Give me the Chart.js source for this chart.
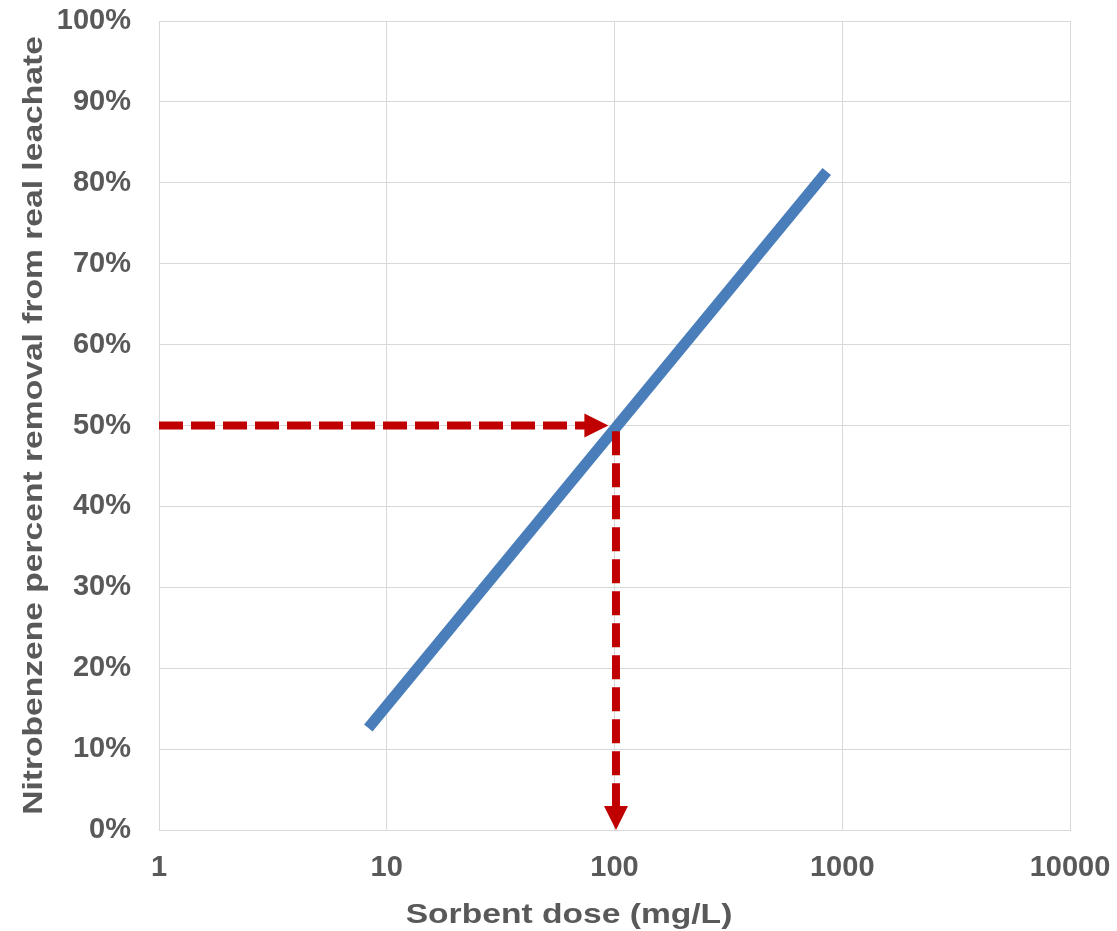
<!DOCTYPE html>
<html>
<head>
<meta charset="utf-8">
<title>Sorbent dose vs nitrobenzene removal</title>
<script src="https://cdn.jsdelivr.net/npm/chart.js@4/dist/chart.umd.min.js"></script>
<style>
  html, body { margin: 0; padding: 0; background: #ffffff; }
  #wrap { width: 1117px; height: 931px; }
</style>
</head>
<body>
<div id="wrap"><canvas id="c" width="1117" height="931"></canvas></div>
<script>
// Fitted removal line: sorbent dose (mg/L) -> percent removal
const doseValues = [8.3, 855];
const removalValues = [12.6, 81.4];

// Reading guide arrows: 50% removal -> required dose
const guideH = [[1, 50], [94, 50]];
const guideV = [[101.5, 49.3], [101.5, 0]];

// Axis ticks
const xTickValues = [1, 10, 100, 1000, 10000];
const yTickValues = [0, 10, 20, 30, 40, 50, 60, 70, 80, 90, 100];

const xTitle = 'Sorbent dose (mg/L)';
const yTitle = 'Nitrobenzene percent removal from real leachate';

const TEXT = '#595959';
const GRID = '#d9d9d9';
const RED = '#C00000';
const BLUE = '#4A7EBB';
const FONT = '"Liberation Sans", Arial, sans-serif';

const linePoints = doseValues.map((d, i) => ({ x: d, y: removalValues[i] }));

// Draws dashed guide arrows and axis titles
const annotate = {
  id: 'annotate',
  afterDatasetsDraw(chart) {
    const { ctx, scales } = chart;
    const sx = scales.x, sy = scales.y;
    const drawArrow = (pts) => {
      const x0 = sx.getPixelForValue(pts[0][0]), y0 = sy.getPixelForValue(pts[0][1]);
      const x1 = sx.getPixelForValue(pts[1][0]), y1 = sy.getPixelForValue(pts[1][1]);
      const len = Math.hypot(x1 - x0, y1 - y0);
      const ux = (x1 - x0) / len, uy = (y1 - y0) / len;
      const head = 24, half = 12;
      const bx = x1 - ux * head, by = y1 - uy * head;
      ctx.save();
      ctx.strokeStyle = RED;
      ctx.lineWidth = 8;
      ctx.setLineDash([24, 8]);
      ctx.lineCap = 'butt';
      ctx.beginPath();
      ctx.moveTo(x0, y0);
      ctx.lineTo(bx + ux * 1, by + uy * 1);
      ctx.stroke();
      ctx.setLineDash([]);
      ctx.fillStyle = RED;
      ctx.beginPath();
      ctx.moveTo(x1, y1);
      ctx.lineTo(bx - uy * half, by + ux * half);
      ctx.lineTo(bx + uy * half, by - ux * half);
      ctx.closePath();
      ctx.fill();
      ctx.restore();
    };
    drawArrow(guideH);
    drawArrow(guideV);
  },
  afterDraw(chart) {
    const { ctx, chartArea } = chart;
    const wide = 1.2; // titles use a widened face
    ctx.save();
    ctx.fillStyle = TEXT;
    ctx.font = 'bold 28px ' + FONT;
    ctx.textAlign = 'center';
    ctx.textBaseline = 'alphabetic';
    ctx.save();
    ctx.translate(569, 923);
    ctx.scale(wide, 1);
    ctx.fillText(xTitle, 0, 0);
    ctx.restore();
    ctx.translate(42, (chartArea.top + chartArea.bottom) / 2);
    ctx.rotate(-Math.PI / 2);
    ctx.scale(wide, 1);
    ctx.fillText(yTitle, 0, 0);
    ctx.restore();
  }
};

new Chart(document.getElementById('c'), {
  type: 'scatter',
  data: {
    datasets: [{
      data: linePoints,
      showLine: true,
      borderColor: BLUE,
      backgroundColor: BLUE,
      borderWidth: 11,
      borderCapStyle: 'butt',
      pointRadius: 0,
      pointHoverRadius: 0
    }]
  },
  options: {
    responsive: false,
    animation: false,
    layout: { padding: { top: 21, right: 47, left: 0, bottom: 0 } },
    plugins: {
      legend: { display: false },
      tooltip: { enabled: false }
    },
    scales: {
      x: {
        type: 'logarithmic',
        min: 1,
        max: 10000,
        afterBuildTicks(scale) { scale.ticks = xTickValues.map(v => ({ value: v })); },
        afterFit(scale) {
          scale.height = 101;
          scale.paddingLeft = 0;
          scale.paddingRight = 0;
        },
        grid: { color: GRID, lineWidth: 1, drawTicks: false },
        border: { display: true, color: GRID },
        ticks: {
          padding: 21,
          color: TEXT,
          font: { family: FONT, size: 29, weight: 'bold' },
          maxRotation: 0,
          autoSkip: false,
          callback: (v) => String(v)
        }
      },
      y: {
        type: 'linear',
        min: 0,
        max: 100,
        afterBuildTicks(scale) { scale.ticks = yTickValues.map(v => ({ value: v })); },
        afterFit(scale) {
          scale.width = 159;
          scale.paddingTop = 0;
          scale.paddingBottom = 0;
        },
        grid: { color: GRID, lineWidth: 1, drawTicks: false },
        border: { display: true, color: GRID },
        ticks: {
          padding: 28,
          color: TEXT,
          font: { family: FONT, size: 29, weight: 'bold' },
          callback: (v) => v + '%'
        }
      }
    }
  },
  plugins: [annotate]
});
</script>
</body>
</html>
